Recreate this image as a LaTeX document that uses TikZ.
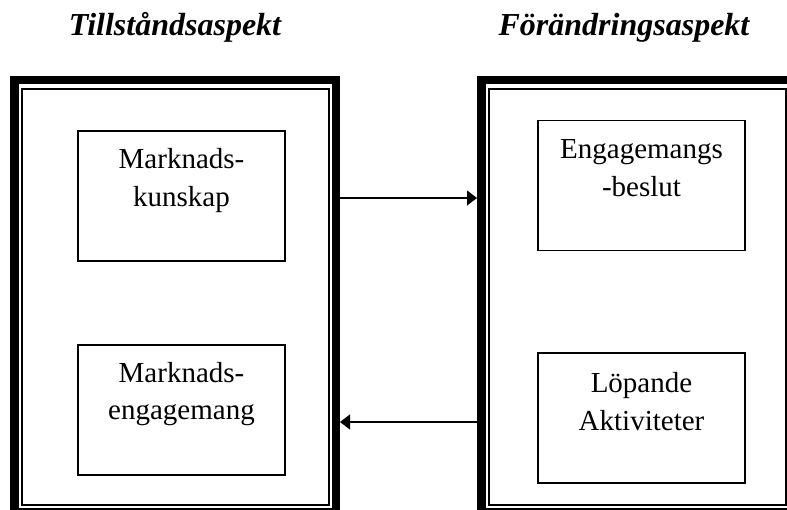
\documentclass[tikz,border=0pt]{standalone}
\usepackage{fontspec}
\setmainfont{Liberation Serif}
\usetikzlibrary{arrows.meta}
\begin{document}
\begin{tikzpicture}[x=1pt,y=-1pt,
  thickframe/.style={draw,line width=8.5pt,minimum width=321.5pt,minimum height=432pt,inner sep=0pt},
  thinframe/.style={draw,line width=2pt,inner sep=0pt},
  box/.style={draw,line width=1.4pt,minimum width=207pt,minimum height=130pt,inner sep=0pt},
  boxtext/.style={anchor=base,inner sep=0pt,font=\fontsize{29}{38}\selectfont},
  title/.style={anchor=base,inner sep=0pt,font=\fontsize{32}{38}\selectfont\bfseries\itshape},
  conn/.style={line width=1.2pt,-{Triangle[length=10pt,width=15pt]}}]
\useasboundingbox (0,0) rectangle (787,510);
\clip (0,0) rectangle (787,510);
% titles
\node[title] (t1) at (175,36) {Tillståndsaspekt};
\node[title] (t2) at (624,36) {Förändringsaspekt};
% frames
\node[thickframe] (lf) at (175,296.25) {};
\node[thickframe] (rf) at (642,296.25) {};
\node[thinframe,minimum width=306.5pt,minimum height=416pt] (lfi) at (175.25,297) {};
\node[thinframe,minimum width=297.5pt,minimum height=416pt] (rfi) at (637.25,297) {};
% boxes
\node[box] (b1) at (181.5,196) {};
\node[box] (b2) at (181.5,410) {};
\node[box] (b3) at (641.5,185.5) {};
\node[box] (b4) at (641.5,418) {};
\node[boxtext] (x1a) at (181.5,169) {Marknads-};
\node[boxtext] (x1b) at (181.5,207) {kunskap};
\node[boxtext] (x2a) at (181.5,383) {Marknads-};
\node[boxtext] (x2b) at (181.5,420) {engagemang};
\node[boxtext] (x3a) at (641.5,159) {Engagemangs};
\node[boxtext] (x3b) at (641.5,197) {-beslut};
\node[boxtext] (x4a) at (641.5,392) {Löpande};
\node[boxtext] (x4b) at (641.5,430) {Aktiviteter};
% connectors
\coordinate (y1) at (0,198);
\coordinate (y2) at (0,422);
\draw[conn] (lf.east |- y1) -- (rf.west |- y1);
\draw[conn] (rf.west |- y2) -- (lf.east |- y2);
\end{tikzpicture}
\end{document}
